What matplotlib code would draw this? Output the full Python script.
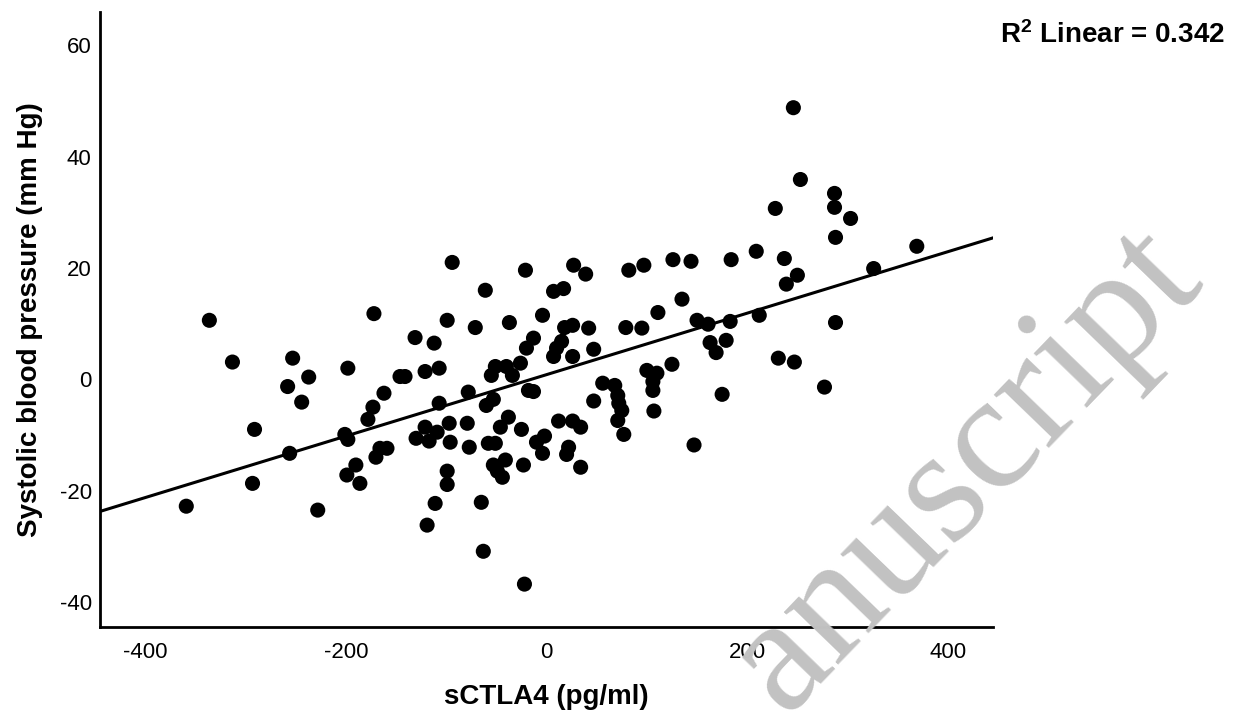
import numpy as np
import matplotlib
matplotlib.use("Agg")
import matplotlib.pyplot as plt

plt.rcParams['font.family'] = ['Liberation Sans', 'DejaVu Sans']
plt.rcParams['mathtext.fontset'] = 'custom'
plt.rcParams['mathtext.rm'] = 'Liberation Sans'
plt.rcParams['mathtext.bf'] = 'Liberation Sans:bold'
plt.rcParams['axes.unicode_minus'] = False

# sCTLA4 (pg/ml) values
sctla4 = [
    -336, -313, -253, -237, -258, -244, -291, -256, -293, -359,
    -228, -198, -162, -173, -178, -146, -141, -201, -198, -166,
    -159, -170, -190, -199, -186, -172, -131, -130,
    -94, -21, 27, 39, -61, 7, 17, 82, 97, 126,
    -99, -71, -37, -4, 18, 26, 42, 79, 95, 111,
    -112, -13, -20, 15, 10, 7, 26, 47,
    -121, -107, -51, -55, -40, -34, -26,
    -78, -107, -60, -53, -18, -13, 56, 68, 47, 71, 72, 75, 71, 77,
    100, 110, 106, 106, 107, 125,
    -121, -109, -117, -97, -79, -96, -77, -58, -51, -38, -46, -25,
    -10, -2, -4, 12, 26, 34, 22, 20, 34,
    -53, -41, -49, -44, -23, -99, -99, -111, -65, -119, -63, -22,
    144, 184, 209, 237, 250, 239, 246, 253, 228,
    135, 150, 161, 183, 212, 163, 179, 169, 231, 247,
    175, 147, 277, 287, 287, 303, 288, 369, 326, 288,
]

# Systolic blood pressure (mm Hg)
sbp = [
    10.6, 3.1, 3.8, 0.4, -1.3, -4.1, -9.0, -13.3, -18.7, -22.8,
    -23.5, 2.0, -2.5, -5.0, -7.2, 0.5, 0.5, -9.9, -10.8, -12.4,
    -12.4, -14.0, -15.4, -17.2, -18.7, 11.8, 7.5, -10.6,
    21.0, 19.6, 20.5, 18.9, 16.0, 15.8, 16.3, 19.6, 20.5, 21.5,
    10.6, 9.3, 10.2, 11.5, 9.3, 9.7, 9.2, 9.3, 9.2, 12.0,
    6.5, 7.4, 5.6, 6.8, 5.6, 4.1, 4.1, 5.4,
    1.4, 2.0, 2.3, 0.7, 2.3, 0.7, 2.9,
    -2.3, -4.3, -4.7, -3.6, -2.0, -2.2, -0.7, -1.1, -3.9, -2.9, -4.3, -5.6, -7.4, -9.9,
    1.6, 1.1, -0.4, -2.0, -5.7, 2.7,
    -8.6, -9.5, -11.1, -7.9, -7.9, -11.3, -12.2, -11.5, -11.5, -6.8, -8.6, -9.0,
    -11.3, -10.2, -13.3, -7.5, -7.5, -8.6, -12.2, -13.5, -15.8,
    -15.4, -14.5, -16.5, -17.6, -15.4, -16.5, -18.9, -22.3, -22.1, -26.2, -30.9, -36.8,
    21.2, 21.5, 23.0, 21.7, 18.7, 17.1, 48.8, 35.9, 30.7,
    14.4, 10.6, 9.9, 10.4, 11.5, 6.6, 7.0, 4.8, 3.8, 3.1,
    -2.7, -11.8, -1.4, 33.4, 30.9, 28.9, 25.5, 23.9, 19.9, 10.2,
]

r2_label = "0.342"
xlim = (-445, 445)
ylim = (-44.5, 66)

fig = plt.figure(figsize=(12.39, 7.21), dpi=100)
ax = fig.add_axes([0.0807, 0.1304, 0.7208, 0.853])

ax.scatter(sctla4, sbp, s=118, color="black", edgecolors="none", zorder=3)

# linear fit line across the whole axis
slope, icpt = np.polyfit(sctla4, sbp, 1)
xx = np.array(xlim)
ax.plot(xx, slope * xx + icpt, color="black", lw=2.2, zorder=2)

ax.set_xlim(*xlim)
ax.set_ylim(*ylim)
ax.set_xticks([-400, -200, 0, 200, 400])
ax.set_yticks([-40, -20, 0, 20, 40, 60])
ax.tick_params(length=0, labelsize=16)
ax.tick_params(axis="x", pad=11)
ax.tick_params(axis="y", pad=6)
for side in ["top", "right"]:
    ax.spines[side].set_visible(False)
for side in ["left", "bottom"]:
    ax.spines[side].set_linewidth(2.0)

ax.set_xlabel("sCTLA4 (pg/ml)", fontsize=20, fontweight="bold", labelpad=15)
ax.set_ylabel("Systolic blood pressure (mm Hg)", fontsize=20, fontweight="bold", labelpad=12)

fig.text(0.9887, 0.951, r"$\mathbf{R^2}$ Linear = " + r2_label, ha="right", va="center",
         fontsize=20, fontweight="bold")

# grey manuscript watermark
fig.text(784 / 1239, 1 - 716 / 721, "anuscript", fontsize=119, family="Liberation Serif",
         color="#c2c2c2", rotation=46, rotation_mode="anchor", ha="left", va="baseline",
         zorder=10)

fig.savefig("out.png", dpi=100)
